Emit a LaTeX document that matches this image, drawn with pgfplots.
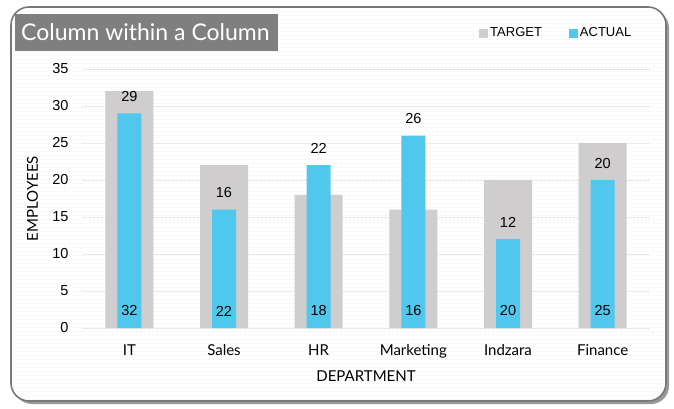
\documentclass[border=0pt]{standalone}
\usepackage{fontspec}
\setmainfont{Lato}
\newfontfamily\numfont{Liberation Sans}
\usepackage{pgfplots}
\usepackage{pgfplotstable}
\pgfplotsset{compat=1.18}
\usetikzlibrary{patterns.meta}

\definecolor{tgray}{RGB}{207,205,205}
\definecolor{ablue}{RGB}{80,200,238}
\definecolor{titlegray}{RGB}{127,127,127}
\definecolor{gridgray}{RGB}{234,234,234}
\definecolor{dotblue}{RGB}{205,232,242}
\definecolor{frame}{RGB}{120,120,120}

\tikzdeclarepattern{
  name=bgdots, type=uncolored,
  bounding box={(0pt,0pt) and (4pt,4pt)},
  tile size={(4pt,4pt)},
  code={\fill (2pt,2pt) circle (0.5pt);}
}

% department  target  actual
\pgfplotstableread{
x dept target actual
0 IT 32 29
1 Sales 22 16
2 HR 18 22
3 Marketing 16 26
4 Indzara 20 12
5 Finance 25 20
}\datatable

\begin{document}
\begin{tikzpicture}[x=1pt,y=1pt]
\useasboundingbox (0,0) rectangle (674,408);
% card with shadow
\fill[black!40, rounded corners=18pt] (14,4) rectangle (669,398);
\fill[white, rounded corners=18pt] (11,7) rectangle (666,401);
\fill[pattern=bgdots, pattern color=dotblue, rounded corners=18pt] (11,7) rectangle (666,401);
\draw[frame, line width=1.6pt, rounded corners=18pt] (11,7) rectangle (666,401);
% title
\fill[titlegray] (15,357) rectangle (278,394);
\node[anchor=west, text=white, font=\fontsize{23}{26}\selectfont, inner sep=0pt] at (21,375.5) {Column within a Column};

\begin{axis}[
  at={(82pt,80pt)}, anchor=south west,
  scale only axis, width=568pt, height=259pt,
  xmin=-0.5, xmax=5.5, ymin=0, ymax=35,
  ytick={0,5,...,35},
  xtick=data,
  xticklabels from table={\datatable}{dept},
  /pgf/number format/assume math mode=true,
  axis line style={draw=none},
  major tick length=0pt,
  ymajorgrids, grid style={gridgray, line width=0.8pt},
  yticklabel style={font=\numfont\fontsize{14.5}{16}\selectfont, xshift=-10pt},
  xticklabel style={font=\fontsize{15}{17}\selectfont, yshift=-13pt},
  ylabel={EMPLOYEES},
  xlabel={DEPARTMENT},
  ylabel style={font=\fontsize{15}{17}\selectfont, at={(axis description cs:-0.087,0.5)}, anchor=center},
  xlabel style={font=\fontsize{15}{17}\selectfont, at={(axis description cs:0.5,-0.185)}, anchor=center},
  legend style={at={(axis description cs:0.699,1.139)}, anchor=west, draw=none, fill=none,
    inner sep=0pt, legend columns=2, font=\numfont\fontsize{13}{15}\selectfont,
    /tikz/every even column/.append style={column sep=25pt},
    legend cell align=left},
  legend image code/.code={\fill[#1] (0pt,-4.5pt) rectangle (9pt,4.5pt);},
]
\addplot[ybar, bar width=48pt, bar shift=0pt, fill=tgray, draw=none]
  table[x=x, y=target] {\datatable};
\addlegendentry{TARGET}
\addplot[ybar, bar width=24pt, bar shift=0pt, fill=ablue, draw=none,
  nodes near coords,
  every node near coord/.append style={font=\numfont\fontsize{14.5}{16}\selectfont, text=black, anchor=south, yshift=8pt}]
  table[x=x, y=actual] {\datatable};
\addlegendentry{ACTUAL}
\addplot[draw=none, mark=none, forget plot,
  point meta=explicit, nodes near coords,
  every node near coord/.append style={font=\numfont\fontsize{14.5}{16}\selectfont, text=black, anchor=center, yshift=17pt}]
  table[x=x, y expr=0, meta=target] {\datatable};
\end{axis}
\end{tikzpicture}
\end{document}
